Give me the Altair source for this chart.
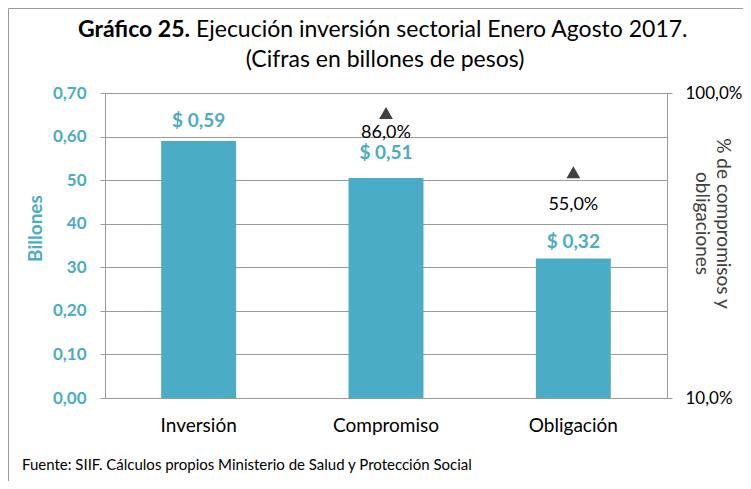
import altair as alt
import pandas as pd

# ---- data ----
categorias = ["Inversión", "Compromiso", "Obligación"]
valores = [0.59, 0.505, 0.32]
etiquetas_valor = ["$ 0,59", "$ 0,51", "$ 0,32"]

cat_pct = ["Compromiso", "Obligación"]
porcentajes = [0.86, 0.55]
etiquetas_pct = ["86,0%", "55,0%"]

ticks_izq = [0.0, 0.1, 0.2, 0.3, 0.4, 0.5, 0.6, 0.7]
etiquetas_izq = ["0,00", "0,10", "0,20", "30", "40", "50", "0,60", "0,70"]
ticks_der = [0.1, 1.0]
etiquetas_der = ["10,0%", "100,0%"]

titulo_negrita = "Gráfico 25."
titulo_resto = "Ejecución inversión sectorial  Enero Agosto 2017."
subtitulo = "(Cifras en billones de pesos)"
fuente = "Fuente: SIIF. Cálculos propios Ministerio de Salud y Protección Social"

df_bar = pd.DataFrame({"cat": categorias, "valor": valores, "etq": etiquetas_valor})
df_pct = pd.DataFrame({"cat": cat_pct, "pct": porcentajes, "etq": etiquetas_pct})

FONT = "Lato"
TEAL = "#4BACC6"
GRAY = "#9a9a9a"
DARK = "#404040"
W, H = 562, 305

lbl_izq_expr = "[" + ",".join("'%s'" % s for s in etiquetas_izq) + "][round(datum.value*10)]"
lbl_der_expr = "datum.value < 0.5 ? '%s' : '%s'" % (etiquetas_der[0], etiquetas_der[1])

xenc = alt.X(
    "cat:N", sort=categorias, title=None,
    scale=alt.Scale(paddingInner=0.6, paddingOuter=0.3),
    axis=alt.Axis(labelAngle=0, ticks=False, domain=False, labelFont=FONT,
                  labelFontSize=19, labelColor="#000000", labelPadding=18),
)

yleft = alt.Y(
    "valor:Q",
    scale=alt.Scale(domain=[0, 0.7], nice=False),
    axis=alt.Axis(values=ticks_izq, labelExpr=lbl_izq_expr, labelFont=FONT,
                  labelFontSize=17, labelFontWeight="bold", labelColor=TEAL,
                  tickSize=5, tickColor=GRAY, domainColor=GRAY, gridColor=GRAY,
                  grid=True, labelPadding=14,
                  title="Billones", titleFont=FONT, titleFontSize=19,
                  titleFontWeight="bold", titleColor=TEAL, titleAngle=-90,
                  titleX=-70, titleY=135, titleAlign="center", titleBaseline="middle"),
)

yright = alt.Y(
    "pct:Q",
    scale=alt.Scale(type="log", domain=[0.1, 1.0], nice=False),
    axis=alt.Axis(orient="right", values=ticks_der, labelExpr=lbl_der_expr,
                  labelFont=FONT, labelFontSize=17, labelColor="#000000",
                  tickSize=5, tickColor=GRAY, domainColor=GRAY, grid=False,
                  labelPadding=13,
                  title=["% de compromisos y", "obligaciones"], titleFont=FONT,
                  titleFontSize=19, titleFontWeight="normal", titleColor=DARK,
                  titleAngle=90, titleX=55, titleY=130, titleAlign="center",
                  titleBaseline="middle"),
)

bars = alt.Chart(df_bar).mark_bar(color=TEAL).encode(x=xenc, y=yleft)

def vlabel(c, dy):
    return alt.Chart(df_bar).transform_filter(alt.datum.cat == c).mark_text(
        font=FONT, fontSize=19, fontWeight="bold", color=TEAL, dy=dy
    ).encode(x=xenc, y=yleft, text="etq:N")

lab_dy = {"Inversión": -20, "Compromiso": -25, "Obligación": -17}
vlabels = [vlabel(c, lab_dy[c]) for c in categorias]

tri = alt.Chart(df_pct).mark_point(shape="triangle-up", filled=True, size=190,
                                   color=DARK, opacity=1).encode(x=xenc, y=yright)

def plabel(c, dy):
    return alt.Chart(df_pct).transform_filter(alt.datum.cat == c).mark_text(
        font=FONT, fontSize=18, color="#000000", dy=dy
    ).encode(x=xenc, y=yright, text="etq:N")

plabels = [plabel("Compromiso", 20), plabel("Obligación", 33)]

def fixed_text(txt, x, y, size, weight="normal", align="center", color="#000000"):
    return alt.Chart(pd.DataFrame({"t": [txt]})).mark_text(
        font=FONT, fontSize=size, fontWeight=weight, align=align,
        baseline="middle", color=color
    ).encode(x=alt.value(x), y=alt.value(y), text="t:N")

t1a = fixed_text(titulo_negrita, 85, -63, 23, "bold", "right")
t1b = fixed_text(titulo_resto, 91, -63, 23, "normal", "left")
t2 = fixed_text(subtitulo, 280, -33, 23)
foot = fixed_text(fuente, -83, 372, 15, align="left")

border = alt.Chart(pd.DataFrame({"a": [0]})).mark_rule(color=GRAY, strokeWidth=1).encode(
    x=alt.value(-96.5), x2=alt.value(-96.5), y=alt.value(-84.5), y2=alt.value(390))
border_top = alt.Chart(pd.DataFrame({"a": [0]})).mark_rule(color=GRAY, strokeWidth=1).encode(
    x=alt.value(-96.5), x2=alt.value(650), y=alt.value(-84.5), y2=alt.value(-84.5))

left_layer = alt.layer(bars, *vlabels)
right_layer = alt.layer(tri, *plabels)

chart = alt.layer(left_layer, right_layer, t1a, t1b, t2, foot, border, border_top).resolve_scale(
    y="independent"
).properties(
    width=W, height=H,
    autosize=alt.AutoSizeParams(type="none"),
    padding={"left": 97, "top": 85, "right": 76, "bottom": 83},
).configure_view(stroke=None).configure_axis(domainWidth=1, tickWidth=1, gridWidth=1)

chart.save("out.html", embed_options={"renderer": "svg", "actions": False})
